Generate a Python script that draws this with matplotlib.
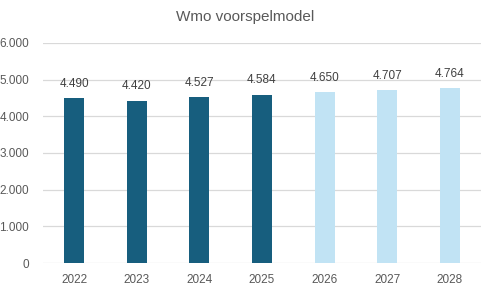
import matplotlib.pyplot as plt
import numpy as np

plt.rcParams["font.family"] = ["Liberation Sans", "DejaVu Sans"]

years = ["2022", "2023", "2024", "2025", "2026", "2027", "2028"]
values = [4490, 4420, 4527, 4584, 4650, 4707, 4764]
labels = ["4.490", "4.420", "4.527", "4.584", "4.650", "4.707", "4.764"]
forecast = [False, False, False, False, True, True, True]
yticks = [0, 1000, 2000, 3000, 4000, 5000, 6000]
ytick_labels = ["0", "1.000", "2.000", "3.000", "4.000", "5.000", "6.000"]

dark = "#175e7e"
light = "#c1e3f4"
textc = "#595959"

fig = plt.figure(figsize=(4.91, 2.92), dpi=100)
ax = fig.add_axes([0.0876, 0.0993, 0.892, 0.754])

x = np.arange(len(years))
colors = [light if f else dark for f in forecast]
bars = ax.bar(x, values, width=0.32, color=colors, zorder=3)

for xi, v, lab in zip(x, values, labels):
    ax.annotate(lab, (xi, v), xytext=(0, 6), textcoords="offset points",
                ha="center", va="bottom", fontsize=8.5, color="#404040")

ax.set_xlim(-0.5, len(years) - 0.5)
ax.set_ylim(0, 6000)
ax.set_yticks(yticks)
ax.set_yticklabels(ytick_labels)
ax.set_xticks(x)
ax.set_xticklabels(years)
ax.tick_params(axis="both", length=0, labelsize=8.5, labelcolor=textc)
ax.tick_params(axis="y", pad=10)
ax.tick_params(axis="x", pad=8)
ax.grid(axis="y", color="#d9d9d9", lw=0.9, zorder=0)
for s in ax.spines.values():
    s.set_visible(False)

fig.suptitle("Wmo voorspelmodel", y=0.965, fontsize=11, color=textc)

fig.savefig("out.png", dpi=100)
